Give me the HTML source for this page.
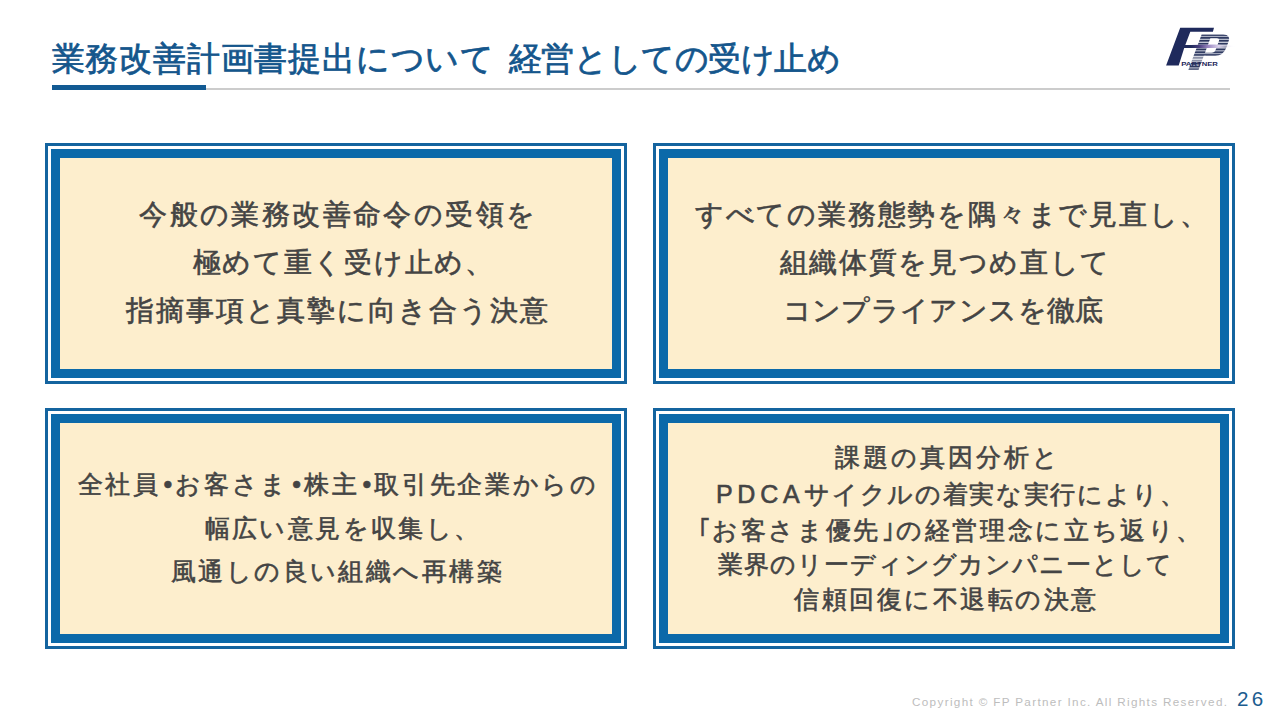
<!DOCTYPE html>
<html lang="ja">
<head>
<meta charset="utf-8">
<title>業務改善計画書提出について 経営としての受け止め</title>
<style>
  html, body { margin: 0; padding: 0; }
  body {
    width: 1280px; height: 720px; overflow: hidden; position: relative;
    background: #ffffff;
    font-family: "Liberation Sans", sans-serif;
  }
  .title {
    position: absolute; left: 51.5px; top: 37px; height: 44px; line-height: 44px;
    font-size: 33px; color: #14568c; white-space: nowrap; letter-spacing: 0.8049999999999966px;
    -webkit-text-stroke: 0.75px #14568c;
  }
  .title .t2 { letter-spacing: -0.4199999999999819px; margin-left: 3.8449999999999536px; }
  .rule-grey { position: absolute; left: 52px; top: 87.5px; width: 1178px; height: 2px; background: #cccccc; }
  .rule-blue { position: absolute; left: 52px; top: 85px; width: 154px; height: 5px; background: #125a93; }

  .box { position: absolute; box-sizing: border-box; border: 3px solid #14649f; background: #ffffff; }
  .box .inner {
    position: absolute; left: 3px; top: 3px; right: 3px; bottom: 3px;
    box-sizing: border-box; border: 9px solid #0b69a9; background: #fdeecd;
  }
  .line {
    position: absolute; left: 0; right: 0; text-align: center; white-space: nowrap;
    color: #444444; font-size: 27.75px; line-height: 40px; height: 40px; letter-spacing: 3px;
    -webkit-text-stroke: 0.6px #444444;
  }
  .sm .line { font-size: 25px; }
  .hw { display: inline-block; width: 15px; text-align: center; letter-spacing: 0; }
  .lat { letter-spacing: 4.75px; }
  .copy {
    position: absolute; left: 912px; top: 693px; height: 18px; line-height: 18px;
    font-size: 11.7px; color: #bdbdbd; white-space: nowrap; letter-spacing: 1.34px;
  }
  .pageno {
    position: absolute; left: 1237px; top: 686px; height: 26px; line-height: 26px;
    font-size: 20.6px; color: #1b5c8f; white-space: nowrap; letter-spacing: 3.4px;
  }
  .logo { position: absolute; left: 1160px; top: 20px; width: 84px; height: 56px; }
</style>
</head>
<body>
  <div class="title">業務改善計画書提出について <span class="t2">経営としての受け止め</span></div>
  <div class="rule-grey"></div>
  <div class="rule-blue"></div>

  <svg class="logo" viewBox="0 0 84 56">
    <defs>
      <pattern id="stripes" patternUnits="userSpaceOnUse" x="0" y="14.3" width="84" height="2.85">
        <rect x="0" y="0" width="84" height="2.85" fill="#c3c8d6"/>
        <rect x="0" y="0" width="84" height="1.7" fill="#2d3860"/>
      </pattern>
      <linearGradient id="swoosh" x1="0" y1="0" x2="1" y2="0">
        <stop offset="0" stop-color="#1f2a5c"/>
        <stop offset="0.18" stop-color="#4a3f80"/>
        <stop offset="0.38" stop-color="#9a88c2"/>
        <stop offset="0.6" stop-color="#d9d1ea"/>
        <stop offset="1" stop-color="#ffffff" stop-opacity="0"/>
      </linearGradient>
    </defs>
    <g transform="translate(0,49.8) skewX(-20.5) translate(0,-49.8)">
      <path fill="url(#stripes)" fill-rule="evenodd"
        d="M28.4,49.8 L28.4,14.4 L50,14.4 Q58,14.4 58,22 L58,28 Q58,35.8 50,35.8 L38.6,35.8 L38.6,49.8 Z
           M38.6,18.3 L45,18.3 Q48.2,18.3 48.2,21.5 L48.2,29.5 Q48.2,32.7 45,32.7 L38.6,32.7 Z"/>
    </g>
    <polygon fill="#ffffff" fill-opacity="0.45" points="32,35.8 46,35.8 43.6,42 29.6,42"/>
    <polygon fill="#1f2a5c" points="20.2,7.8 54,7.8 52.9,11.7 30.3,11.7 25.3,24.9 37.3,24.9 37,28 24.2,28 18.7,45.5 6.1,45.5"/>
    <path fill="url(#swoosh)" d="M31,24.9 L55,24.6 Q70,25.4 77,26.3 Q70,27.3 55,28.1 L31,28 Z"/>
    <text x="21.3" y="45.9" font-family="Liberation Sans, sans-serif" font-weight="bold" font-size="6.2px"
          fill="#1f2a5c" textLength="36.6" lengthAdjust="spacingAndGlyphs">PARTNER</text>
  </svg>

  <div class="box" style="left:45px; top:143px; width:582px; height:241px;">
    <div class="inner">
      <div class="line" style="top:36.5px; letter-spacing:2.4px; margin-left:4.68px;">今般の業務改善命令の受領を</div>
      <div class="line" style="top:84.5px; letter-spacing:1.7px; margin-left:15.3px;">極めて重く受け止め、</div>
      <div class="line" style="top:132.5px; letter-spacing:2.02px; margin-left:4.14px;">指摘事項と真摯に向き合う決意</div>
    </div>
  </div>

  <div class="box" style="left:653px; top:143px; width:582px; height:241px;">
    <div class="inner">
      <div class="line" style="top:36.5px; letter-spacing:1.8px; margin-left:16.38px;">すべての業務態勢を隅々まで見直し、</div>
      <div class="line" style="top:84.5px; letter-spacing:1.65px; margin-left:2.7px;">組織体質を見つめ直して</div>
      <div class="line" style="top:132.5px; letter-spacing:0.37px; margin-left:-1.8px;">コンプライアンスを徹底</div>
    </div>
  </div>

  <div class="box sm" style="left:45px; top:408px; width:582px; height:241px;">
    <div class="inner">
      <div class="line" style="top:40.5px; letter-spacing:2.65px; margin-left:4.14px;">全社員<span class="hw">•</span>お客さま<span class="hw">•</span>株主<span class="hw">•</span>取引先企業からの</div>
      <div class="line" style="top:84.5px; letter-spacing:2.4px; margin-left:14.4px;">幅広い意見を収集し、</div>
      <div class="line" style="top:127.5px; letter-spacing:2.44px; margin-left:2.88px;">風通しの良い組織へ再構築</div>
    </div>
  </div>

  <div class="box sm" style="left:653px; top:408px; width:582px; height:241px;">
    <div class="inner">
      <div class="line" style="top:14px; letter-spacing:3.08px; margin-left:7.74px;">課題の真因分析と</div>
      <div class="line" style="top:50.5px; letter-spacing:1.67px; margin-left:14.76px;"><span class="lat">PDCA</span>サイクルの着実な実行により、</div>
      <div class="line" style="top:86.5px; letter-spacing:2.64px; margin-left:13.32px;"><span class="hw">｢</span>お客さま優先<span class="hw">｣</span>の経営理念に立ち返り、</div>
      <div class="line" style="top:121px; letter-spacing:1.0px; margin-left:3.96px;">業界のリーディングカンパニーとして</div>
      <div class="line" style="top:156px; letter-spacing:2.5px; margin-left:5.04px;">信頼回復に不退転の決意</div>
    </div>
  </div>

  <div class="copy">Copyright © FP Partner Inc. All Rights Reserved.</div>
  <div class="pageno">26</div>
</body>
</html>
